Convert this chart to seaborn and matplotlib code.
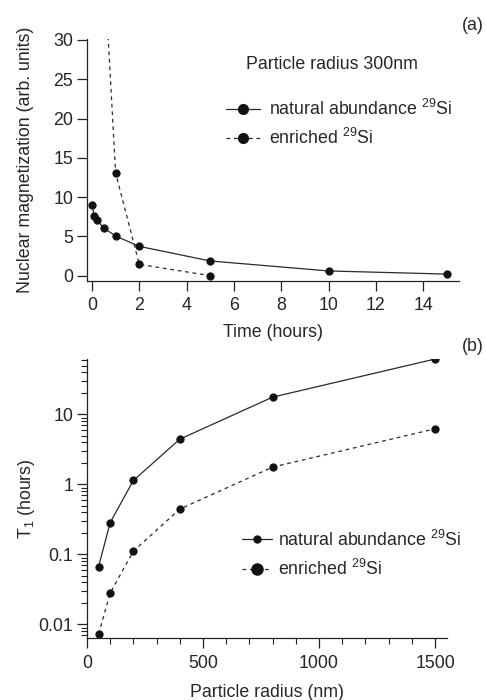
import numpy as np
import pandas as pd
import matplotlib
matplotlib.use("Agg")
import matplotlib.pyplot as plt
from matplotlib.lines import Line2D
from matplotlib.ticker import MultipleLocator, LogLocator, NullFormatter, FixedLocator, FuncFormatter
import seaborn as sns

# ---- data ----
time_nat = [0, 0.1, 0.2, 0.5, 1, 2, 5, 10, 15]
mag_nat = [9.0, 7.64, 7.1, 6.07, 5.05, 3.73, 1.87, 0.6, 0.2]
time_enr = [0.5, 1, 2, 5]
mag_enr = [40.4, 13.07, 1.44, 0.0]

radius = [50, 100, 200, 400, 800, 1500]
t1_nat = [0.067, 0.286, 1.14, 4.44, 17.7, 62.0]
t1_enr = [0.00728, 0.0281, 0.1116, 0.445, 1.77, 6.24]

lab_nat = "natural abundance $^{29}$Si"
lab_enr = "enriched $^{29}$Si"

sns.set_style("ticks")
plt.rcParams["font.family"] = ["Liberation Sans", "DejaVu Sans"]
plt.rcParams["mathtext.fontset"] = "custom"
plt.rcParams["mathtext.rm"] = "Liberation Sans"
plt.rcParams["mathtext.it"] = "Liberation Sans:italic"
plt.rcParams["mathtext.default"] = "regular"

fs = 12.8
plt.rcParams["font.size"] = fs
lc = "#2a2a2a"
mc = "#111111"

fig = plt.figure(figsize=(4.86, 7.0), dpi=100)
axa = fig.add_axes([0.179, 0.599, 0.765, 0.345])
axb = fig.add_axes([0.179, 0.0886, 0.741, 0.3985])

# ---- panel (a) ----
sns.lineplot(x=time_nat, y=mag_nat, ax=axa, color=lc, lw=0.9, marker="o",
             markersize=5.2, markerfacecolor=mc, markeredgecolor=mc, sort=False)
sns.lineplot(x=time_enr, y=mag_enr, ax=axa, color=lc, lw=0.9, linestyle=(0, (3, 3)),
             marker="o", markersize=5.2, markerfacecolor=mc, markeredgecolor=mc, sort=False)
axa.set_xlim(-0.21, 15.5)
axa.set_ylim(-0.64, 30.1)
axa.xaxis.set_major_locator(MultipleLocator(2))
axa.yaxis.set_major_locator(MultipleLocator(5))
axa.set_xlabel("Time (hours)", fontsize=fs, labelpad=7)
axa.set_ylabel("Nuclear magnetization (arb. units)", fontsize=fs, labelpad=14)
axa.text(0.66, 0.897, "Particle radius 300nm", transform=axa.transAxes,
         ha="center", va="center", fontsize=fs)
ha = [Line2D([], [], color=lc, lw=0.9, marker="o", markersize=7, markerfacecolor=mc, markeredgecolor=mc),
      Line2D([], [], color=lc, lw=0.9, linestyle=(0, (3, 3)), marker="o", markersize=7,
             markerfacecolor=mc, markeredgecolor=mc)]
axa.legend(ha, [lab_nat, lab_enr], loc="upper left", bbox_to_anchor=(0.374, 0.753),
           frameon=False, fontsize=fs, handlelength=1.9, handletextpad=0.5,
           labelspacing=0.5, borderaxespad=0, borderpad=0)

# ---- panel (b) ----
sns.lineplot(x=radius, y=t1_nat, ax=axb, color=lc, lw=0.9, marker="o",
             markersize=5.2, markerfacecolor=mc, markeredgecolor=mc, sort=False)
sns.lineplot(x=radius, y=t1_enr, ax=axb, color=lc, lw=0.9, linestyle=(0, (3, 3)),
             marker="o", markersize=5.2, markerfacecolor=mc, markeredgecolor=mc, sort=False)
axb.set_yscale("log")
axb.set_xlim(0, 1552)
axb.set_ylim(0.0064, 62)
axb.xaxis.set_major_locator(MultipleLocator(500))
axb.xaxis.set_minor_locator(MultipleLocator(100))
axb.yaxis.set_major_locator(FixedLocator([0.01, 0.1, 1, 10]))
axb.yaxis.set_major_formatter(FuncFormatter(lambda v, p: f"{v:g}"))
axb.yaxis.set_minor_locator(LogLocator(base=10, subs=np.arange(2, 10), numticks=20))
axb.yaxis.set_minor_formatter(NullFormatter())
axb.set_xlabel("Particle radius (nm)", fontsize=fs, labelpad=9)
axb.set_ylabel("T$_1$ (hours)", fontsize=fs, labelpad=1)
hb = [Line2D([], [], color=lc, lw=0.9, marker="o", markersize=5, markerfacecolor=mc, markeredgecolor=mc),
      Line2D([], [], color=lc, lw=0.9, linestyle=(0, (3, 3)), marker="o", markersize=8,
             markerfacecolor=mc, markeredgecolor=mc)]
axb.legend(hb, [lab_nat, lab_enr], loc="upper left", bbox_to_anchor=(0.43, 0.389),
           frameon=False, fontsize=fs, handlelength=1.7, handletextpad=0.35,
           labelspacing=0.55, borderaxespad=0, borderpad=0)

for ax in (axa, axb):
    sns.despine(ax=ax)
    for s in ("left", "bottom"):
        ax.spines[s].set_color("#222222")
        ax.spines[s].set_linewidth(0.9)
    ax.tick_params(which="major", direction="out", length=7, width=0.9,
                   labelsize=fs, pad=3, color="#222222")
    ax.tick_params(which="minor", direction="out", length=4, width=0.8, color="#222222")
axa.tick_params(axis="x", which="major", pad=5)
axb.tick_params(axis="x", which="major", pad=5)

fig.text(0.995, 0.964, "(a)", ha="right", va="center", fontsize=fs)
fig.text(0.995, 0.505, "(b)", ha="right", va="center", fontsize=fs)

fig.savefig("out.png", dpi=100)
